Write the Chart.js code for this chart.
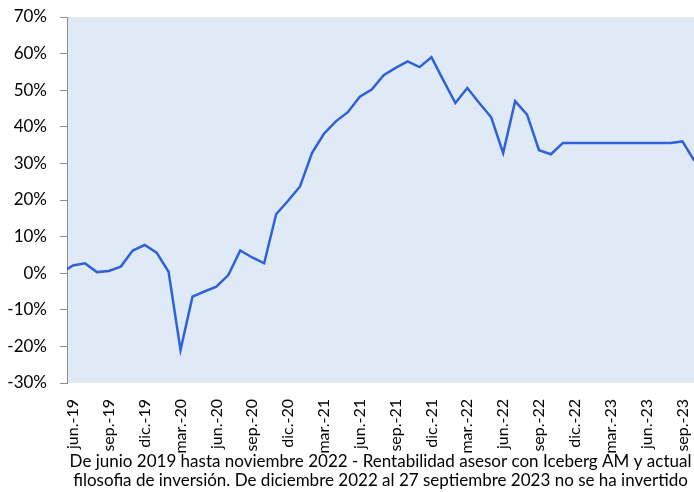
<!DOCTYPE html>
<html>
<head>
<meta charset="utf-8">
<script src="https://cdn.jsdelivr.net/npm/chart.js@4/dist/chart.umd.min.js"></script>
<style>
  html, body { margin: 0; padding: 0; background: #ffffff; }
  #wrap { width: 694px; height: 492px; position: relative; }
</style>
</head>
<body>
<div id="wrap"><canvas id="c" width="694" height="492"></canvas></div>
<script>
// Months from may.-19 (start, 0%) to oct.-23
const months = [
  'may.-19',
  'jun.-19','jul.-19','ago.-19','sep.-19','oct.-19','nov.-19','dic.-19',
  'ene.-20','feb.-20','mar.-20','abr.-20','may.-20','jun.-20','jul.-20','ago.-20','sep.-20','oct.-20','nov.-20','dic.-20',
  'ene.-21','feb.-21','mar.-21','abr.-21','may.-21','jun.-21','jul.-21','ago.-21','sep.-21','oct.-21','nov.-21','dic.-21',
  'ene.-22','feb.-22','mar.-22','abr.-22','may.-22','jun.-22','jul.-22','ago.-22','sep.-22','oct.-22','nov.-22','dic.-22',
  'ene.-23','feb.-23','mar.-23','abr.-23','may.-23','jun.-23','jul.-23','ago.-23','sep.-23','oct.-23'
];
// Cumulative return (%)
const rentabilidad = [
  0.0,
  2.1, 2.7, 0.3, 0.6, 1.8, 6.2, 7.7,
  5.6, 0.4, -21.0, -6.4, -5.0, -3.7, -0.5, 6.2, 4.3, 2.7, 16.1, 19.8,
  23.7, 32.8, 38.1, 41.5, 44.0, 48.2, 50.2, 54.1, 56.1, 57.9, 56.3, 59.0,
  52.7, 46.5, 50.6, 46.5, 42.6, 32.8, 47.0, 43.3, 33.6, 32.5, 35.6, 35.6,
  35.6, 35.6, 35.6, 35.6, 35.6, 35.6, 35.6, 35.6, 36.0, 30.7
];
// Axis tick labels shown (every 3 months)
const tickLabels = ['jun.-19','sep.-19','dic.-19','mar.-20','jun.-20','sep.-20','dic.-20','mar.-21','jun.-21','sep.-21','dic.-21','mar.-22','jun.-22','sep.-22','dic.-22','mar.-23','jun.-23','sep.-23'];
const yTicks = [-30, -20, -10, 0, 10, 20, 30, 40, 50, 60, 70];
const axisTitle = [
  'De junio 2019 hasta noviembre 2022 - Rentabilidad asesor con Iceberg AM y actual',
  'filosofia de inversión. De diciembre 2022 al 27 septiembre 2023 no se ha invertido'
];

// index 0 = jun.-19
const points = rentabilidad.map((v, i) => ({ x: i - 1, y: v }));

const plotBg = {
  id: 'plotBg',
  beforeDraw(chart) {
    const { ctx, chartArea: a } = chart;
    ctx.save();
    ctx.fillStyle = '#E0EAF7';
    ctx.fillRect(a.left, a.top, a.right - a.left, a.bottom - a.top);
    ctx.restore();
  }
};

const FONT = 'Lato, "Open Sans", sans-serif';

new Chart(document.getElementById('c'), {
  type: 'line',
  data: {
    datasets: [{
      data: points,
      borderColor: '#2F62D9',
      borderWidth: 2.5,
      pointRadius: 0,
      tension: 0,
      fill: false,
      clip: 0
    }]
  },
  options: {
    responsive: false,
    animation: false,
    layout: { padding: { top: 17, right: 0, left: 0, bottom: 0 } },
    plugins: { legend: { display: false }, tooltip: { enabled: false } },
    scales: {
      x: {
        type: 'linear',
        min: -0.5,
        max: 51.97,
        afterFit(s) { s.height = 109; s.paddingLeft = 0; s.paddingRight = 0; },
        afterBuildTicks(s) {
          s.ticks = tickLabels.map(l => ({ value: months.indexOf(l) - 1 }));
        },
        grid: { display: false },
        border: { display: false },
        ticks: {
          autoSkip: false,
          minRotation: 90,
          maxRotation: 90,
          padding: 8,
          color: '#000',
          font: { family: FONT, size: 16 },
          callback: (v) => months[v + 1]
        },
        title: {
          display: true,
          text: axisTitle,
          color: '#000',
          font: { family: FONT, size: 17, lineHeight: 1.1 },
          padding: { top: 0, bottom: 2 }
        }
      },
      y: {
        min: -30,
        max: 70,
        afterFit(s) { s.width = 67; s.paddingTop = 0; s.paddingBottom = 0; },
        afterBuildTicks(s) { s.ticks = yTicks.map(v => ({ value: v })); },
        grid: {
          drawOnChartArea: false,
          drawTicks: true,
          tickLength: 7,
          color: '#8E8E8E',
          lineWidth: 1
        },
        border: { display: true, color: '#8E8E8E', width: 1 },
        ticks: {
          padding: 13,
          color: '#000',
          font: { family: FONT, size: 17 },
          callback: (v) => v + '%'
        }
      }
    }
  },
  plugins: [plotBg]
});
</script>
</body>
</html>
